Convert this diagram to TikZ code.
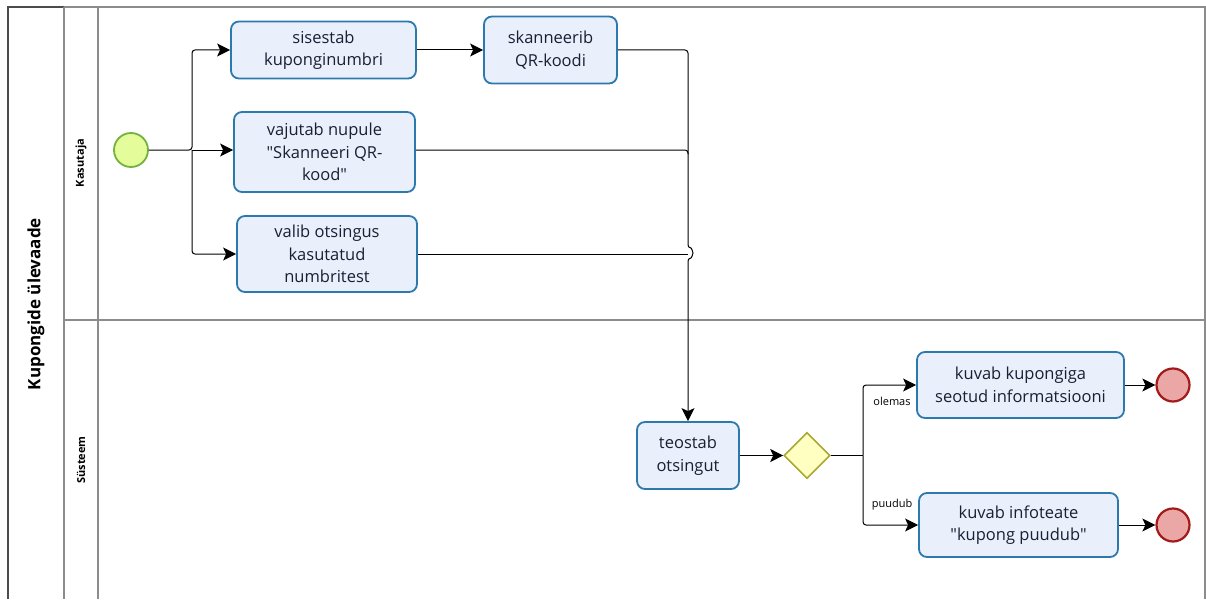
\documentclass[tikz,border=0pt]{standalone}
\usepackage{fontspec}
\setmainfont{Open Sans}[Ligatures=TeXOff]
\usetikzlibrary{arrows.meta,shapes.geometric}
\definecolor{taskfill}{HTML}{EAEFFC}
\definecolor{taskline}{HTML}{2B79AD}
\definecolor{tasktext}{HTML}{1A1F33}
\definecolor{startfill}{HTML}{E5FC9B}
\definecolor{startline}{HTML}{71B33C}
\definecolor{endfill}{HTML}{EBA6A6}
\definecolor{endline}{HTML}{A21A1A}
\definecolor{gwfill}{HTML}{FFFFC2}
\definecolor{gwline}{HTML}{A8A833}
\definecolor{poolline}{HTML}{8C8C8C}
\tikzset{
  task/.style={draw=taskline, fill=taskfill, line width=1.8pt, rounded corners=8pt,
    align=center, text=tasktext, font=\fontsize{16.5}{22.5}\selectfont, inner sep=0pt},
  startev/.style={circle, draw=startline, fill=startfill, line width=1.8pt, minimum size=34pt, inner sep=0pt},
  endev/.style={circle, draw=endline, fill=endfill, line width=2.2pt, minimum size=33pt, inner sep=0pt},
  gateway/.style={diamond, draw=gwline, fill=gwfill, line width=1.6pt, minimum size=46pt, inner sep=0pt, aspect=1},
  flow/.style={draw=black, line width=1pt, rounded corners=3pt,
    -{Stealth[length=13pt,width=13pt,inset=3pt]}},
  plain/.style={draw=black, line width=1pt, rounded corners=3pt},
  lanelabel/.style={rotate=90, font=\bfseries\fontsize{11}{13}\selectfont},
  flowlabel/.style={font=\fontsize{11}{13}\selectfont, inner sep=0pt},
}
\begin{document}
\begin{tikzpicture}[x=1pt,y=-1pt]
\useasboundingbox (0,0) rectangle (1206,599);

% pool and lanes
\draw[poolline, line width=1.1pt] (64,7) -- (1205,7) -- (1205,599);
\draw[black!70, line width=1.1pt] (8,599) -- (8,7) -- (64,7);
\draw[poolline, line width=1.1pt] (64,7) -- (64,599);
\draw[poolline, line width=1.1pt] (98,7) -- (98,599);
\draw[poolline, line width=1.1pt] (64,320) -- (1205,320);
\node[rotate=90, font=\bfseries\fontsize{17}{20}\selectfont] (pool) at (36,304) {Kupongide ülevaade};
\node[lanelabel] (laneA) at (81,163) {Kasutaja};
\node[lanelabel] (laneB) at (81,460) {Süsteem};

% events, tasks and gateway
\node[startev] (start) at (131,150) {};
\node[task, minimum width=185pt, minimum height=57pt] (sis) at (323.5,50) {sisestab\\kuponginumbri};
\node[task, minimum width=181pt, minimum height=80pt] (vaj) at (324.5,152) {vajutab nupule\\"Skanneeri QR-\\kood"};
\node[task, minimum width=180pt, minimum height=76pt] (val) at (327,254) {valib otsingus\\kasutatud\\numbritest};
\node[task, minimum width=133pt, minimum height=67pt] (skan) at (550.5,50) {skanneerib\\QR-koodi};
\node[task, minimum width=102pt, minimum height=67pt] (teo) at (688,455.5) {teostab\\otsingut};
\node[gateway] (gw) at (807,455.5) {};
\node[task, minimum width=207pt, minimum height=66pt] (info) at (1020.5,385) {kuvab kupongiga\\seotud informatsiooni};
\node[task, minimum width=199pt, minimum height=64pt] (puu) at (1018.5,525) {kuvab infoteate\\"kupong puudub"};
\node[endev] (end1) at (1173,385) {};
\node[endev] (end2) at (1173,525) {};

% junction points
\coordinate (fork) at (192,150);
\coordinate (split) at (863,455.5);

% start splits into three alternatives
\draw[flow] (start.east) -- (fork) |- (sis.west);
\draw[flow] (fork) -- (fork -| vaj.west);
\draw[flow] (fork) |- (val.west);
\draw[flow] (sis.east) -- (skan.west);

% all three alternatives lead to the search
\draw[flow] (skan.east) -| (688,248) arc[start angle=90, end angle=-90, radius=5pt] -- (teo.north);
\draw[plain] (vaj.east |- fork) -- (fork -| teo.north) -- ++(0,4);
\draw[plain] (val.east) -- (val.east -| teo.north);

% search result
\draw[flow] (teo.east) -- (gw.west);
\draw[plain] (gw.east) -- (split);
\draw[flow] (split) |- (info.west);
\draw[flow] (split) |- (puu.west);
\node[flowlabel] (lblA) at (892,401) {olemas};
\node[flowlabel] (lblB) at (892,505) {puudub};
\draw[flow] (info.east) -- (end1.west);
\draw[flow] (puu.east) -- (end2.west);
\end{tikzpicture}
\end{document}
